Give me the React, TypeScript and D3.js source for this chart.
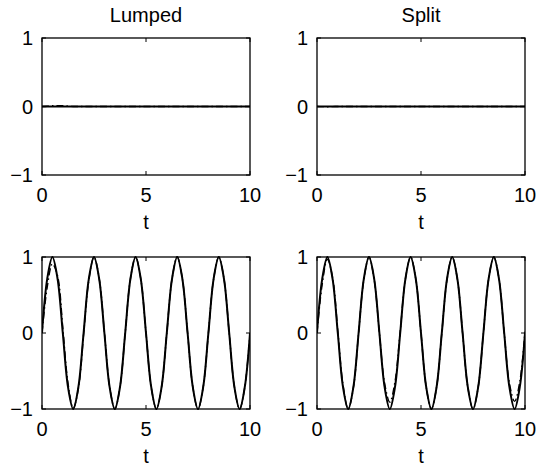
import React from "react";
import * as d3 from "d3";

const tValues = [0,0.25,0.5,0.75,1,1.25,1.5,1.75,2,2.25,2.5,2.75,3,3.25,3.5,3.75,4,4.25,4.5,4.75,5,5.25,5.5,5.75,6,6.25,6.5,6.75,7,7.25,7.5,7.75,8,8.25,8.5,8.75,9,9.25,9.5,9.75,10];

const zeroExact = [0,0,0,0,0,0,0,0,0,0,0,0,0,0,0,0,0,0,0,0,0,0,0,0,0,0,0,0,0,0,0,0,0,0,0,0,0,0,0,0,0];
const zeroLumped = [0,0.004,0.01,0.012,0.01,0.005,0.001,0,0,0,0,0,0,0,0,0,0,0,0,0,0,0,0,0,0,0,0,0,0,0,0,0,0,0,0,0,0,0,0,0,0];
const zeroSplit = [0,-0.002,-0.003,-0.002,0,0.001,0,0,0,0,0,0,0,0,0,0,0,0,0,0,0,0,0,0,0,0,0,0,0,0,0,0,0,0,0,0,0,0,0,0,0];

const sineExact = [0,0.71,1,0.71,0,-0.71,-1,-0.71,0,0.71,1,0.71,0,-0.71,-1,-0.71,0,0.71,1,0.71,0,-0.71,-1,-0.71,0,0.71,1,0.71,0,-0.71,-1,-0.71,0,0.71,1,0.71,0,-0.71,-1,-0.71,0];
const sineLumped = [0,0.6,0.91,0.75,0.07,-0.66,-0.99,-0.73,-0.02,0.69,1,0.72,0.01,-0.7,-1,-0.71,0,0.71,1,0.71,0,-0.71,-1,-0.71,0,0.71,1,0.71,0,-0.71,-1,-0.71,0,0.71,1,0.71,0,-0.71,-1,-0.71,0];
const sineSplit = [0,0.64,0.97,0.73,0.03,-0.68,-1,-0.72,0,0.7,1,0.7,0,-0.66,-0.91,-0.64,0.02,0.71,1,0.71,0,-0.71,-1,-0.71,0,0.7,1,0.71,0,-0.71,-1,-0.71,0,0.71,1,0.71,0,-0.66,-0.9,-0.64,0.02];

const xTicks = [0, 5, 10];
const yTicks = [-1, 0, 1];
const titles = ["Lumped", "Split"];
const xLabel = "t";

const FONT = "'Liberation Sans', Arial, Helvetica, sans-serif";

type PanelProps = {
  x0: number; x1: number; y0: number; y1: number;
  exact: number[]; approx: number[]; title?: string;
};

function Panel({ x0, x1, y0, y1, exact, approx, title }: PanelProps) {
  const x = d3.scaleLinear().domain([0, 10]).range([x0, x1]);
  const y = d3.scaleLinear().domain([-1, 1]).range([y1, y0]);
  const line = d3
    .line<number>()
    .x((_, i) => x(tValues[i]))
    .y((d) => y(d))
    .curve(d3.curveCatmullRom.alpha(0.5));
  const tick = 4;
  return (
    <g>
      <defs>
        <clipPath id={`clip-${x0}-${y0}`}>
          <rect x={x0} y={y0 - 1} width={x1 - x0} height={y1 - y0 + 2} />
        </clipPath>
      </defs>
      <g clipPath={`url(#clip-${x0}-${y0})`}>
        <path d={line(exact) || ""} fill="none" stroke="#000" strokeWidth={2} />
        <path d={line(approx) || ""} fill="none" stroke="#000" strokeWidth={1.4} strokeDasharray="7,3,1.5,3" />
      </g>
      <rect x={x0} y={y0} width={x1 - x0} height={y1 - y0} fill="none" stroke="#000" strokeWidth={1.3} />
      {xTicks.map((t) => (
        <g key={`xt${t}`}>
          <line x1={x(t)} x2={x(t)} y1={y1} y2={y1 - tick} stroke="#000" />
          <line x1={x(t)} x2={x(t)} y1={y0} y2={y0 + tick} stroke="#000" />
          <text x={x(t)} y={y1 + 27} textAnchor="middle" fontSize={20} fontFamily={FONT}>{t}</text>
        </g>
      ))}
      {yTicks.map((v) => (
        <g key={`yt${v}`}>
          <line x1={x0} x2={x0 + tick} y1={y(v)} y2={y(v)} stroke="#000" />
          <line x1={x1} x2={x1 - tick} y1={y(v)} y2={y(v)} stroke="#000" />
          <text x={x0 - 9} y={y(v) + 7} textAnchor="end" fontSize={20} fontFamily={FONT}>
            {v < 0 ? `\u2212${Math.abs(v)}` : v}
          </text>
        </g>
      ))}
      <text x={(x0 + x1) / 2} y={y1 + 54} textAnchor="middle" fontSize={20} fontFamily={FONT}>{xLabel}</text>
      {title && (
        <text x={(x0 + x1) / 2} y={y0 - 16} textAnchor="middle" fontSize={20} fontFamily={FONT}>{title}</text>
      )}
    </g>
  );
}

export default function App() {
  return (
    <svg width={538} height={468} style={{ position: "absolute", left: 0, top: 0, background: "#fff" }}>
      <rect width={538} height={468} fill="#fff" />
      <Panel x0={42} x1={250} y0={38} y1={175} exact={zeroExact} approx={zeroLumped} title={titles[0]} />
      <Panel x0={317} x1={525} y0={38} y1={175} exact={zeroExact} approx={zeroSplit} title={titles[1]} />
      <Panel x0={42} x1={250} y0={257} y1={409} exact={sineExact} approx={sineLumped} />
      <Panel x0={317} x1={525} y0={257} y1={409} exact={sineExact} approx={sineSplit} />
    </svg>
  );
}
